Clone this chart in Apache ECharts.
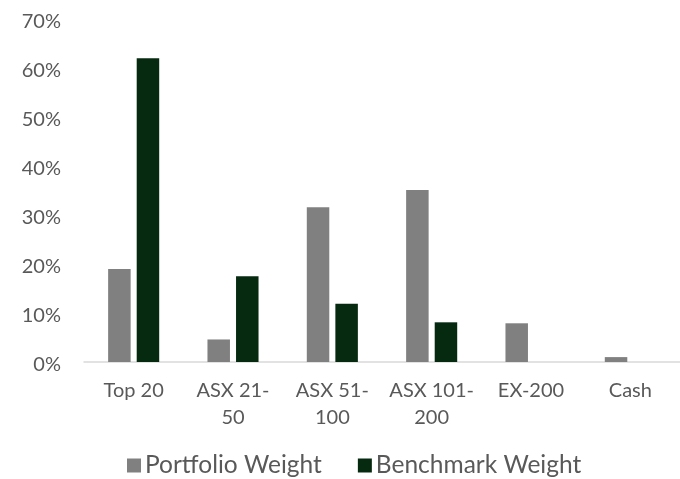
<!DOCTYPE html>
<html>
<head>
<meta charset="utf-8">
<script src="https://cdn.jsdelivr.net/npm/echarts@6/dist/echarts.min.js"></script>
<style>html,body{margin:0;padding:0;background:#fff}#c{width:680px;height:479px}</style>
</head>
<body>
<div id="c"></div>
<script>
var categories = ["Top 20", "ASX 21-50", "ASX 51-100", "ASX 101-200", "EX-200", "Cash"];
var tickLabels = ["Top 20", "ASX 21-\n50", "ASX 51-\n100", "ASX 101-\n200", "EX-200", "Cash"];
var portfolioWeight = [19.0, 4.6, 31.6, 35.1, 7.9, 1.0];
var benchmarkWeight = [62.0, 17.5, 11.9, 8.1, 0, 0];
var seriesNames = ["Portfolio Weight", "Benchmark Weight"];

var FONT = "Lato";
var chart = echarts.init(document.getElementById('c'), null, {renderer: 'canvas'});
chart.setOption({
  animation: false,
  backgroundColor: '#ffffff',
  textStyle: {fontFamily: FONT},
  grid: {left: 84, right: 0, top: 19, bottom: 117, containLabel: false},
  legend: {
    bottom: -4,
    left: 122,
    data: seriesNames,
    icon: 'rect',
    itemWidth: 14,
    itemHeight: 14,
    itemGap: 36,
    textStyle: {color: '#595959', fontSize: 24.5, fontFamily: FONT, padding: [0, 0, 0, -1]}
  },
  xAxis: {
    type: 'category',
    data: categories,
    axisLine: {lineStyle: {color: '#d9d9d9', width: 1.5}},
    axisTick: {show: false},
    axisLabel: {
      color: '#595959', fontSize: 20, fontFamily: FONT, margin: 15, lineHeight: 27, interval: 0,
      formatter: function (v, i) { return tickLabels[i]; }
    }
  },
  yAxis: {
    type: 'value',
    min: 0, max: 70, interval: 10,
    splitLine: {show: false},
    axisLine: {show: false},
    axisTick: {show: false},
    axisLabel: {color: '#595959', fontSize: 20, fontFamily: FONT, margin: 23,
      formatter: function (v) { return '{a|' + v + '%}'; },
      rich: {a: {fontSize: 20, fontFamily: FONT, color: '#595959', padding: [5, 0, 0, 0]}}}
  },
  series: [
    {name: seriesNames[0], type: 'bar', data: portfolioWeight, barWidth: 22.5, barGap: '27%',
     itemStyle: {color: '#808080'}},
    {name: seriesNames[1], type: 'bar', data: benchmarkWeight, barWidth: 22.5, barGap: '27%',
     itemStyle: {color: '#062a10'}}
  ]
});
</script>
</body>
</html>
